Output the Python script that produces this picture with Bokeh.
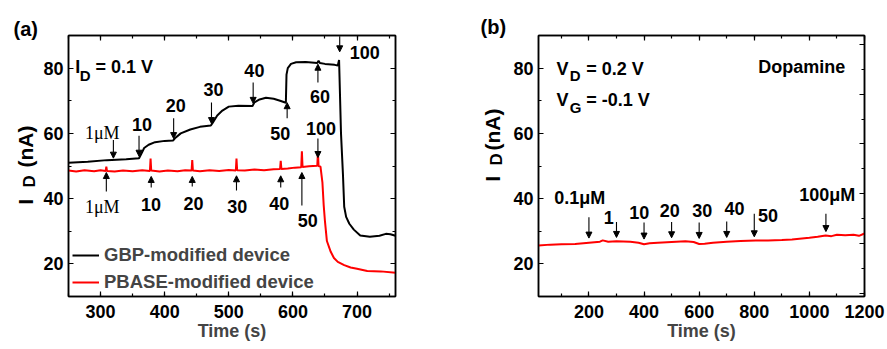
import math
from bokeh.plotting import figure
from bokeh.models import (Range1d, LinearAxis, SingleIntervalTicker, Label, Arrow, NormalHead)
from bokeh.layouts import row
from bokeh.embed import file_html
from bokeh.resources import INLINE

# ---------------- data: panel (a) ----------------
gbp_t = [250, 280, 310, 340, 360, 363, 368, 375, 385, 400, 413, 416, 425, 440, 455, 472,
         475, 482, 490, 500, 515, 537, 540, 548, 558, 570, 580, 589, 590, 592, 597, 605,
         620, 638, 640, 642, 650, 665, 670, 672, 675, 678, 680, 683, 688, 695, 705, 720,
         735, 745, 752, 760]
gbp_i = [51.0, 51.3, 51.8, 52.1, 52.4, 53.5, 55.5, 56.5, 57.3, 57.7, 57.8, 58.5, 60.0, 61.2, 62.0, 62.4,
         63.3, 65.5, 67.0, 68.2, 68.5, 68.4, 69.5, 70.4, 70.9, 70.6, 70.0, 69.4, 78.0, 80.0, 81.3, 81.8,
         81.9, 81.6, 82.3, 81.6, 81.3, 81.0, 80.8, 82.5, 60.0, 47.6, 37.5, 34.4, 32.3, 30.5, 28.7, 28.3,
         28.6, 29.2, 29.1, 28.6]

pbase_t = [250, 262, 275, 290, 300, 308, 309, 310, 322, 335, 350, 365, 377, 378, 379, 392,
           405, 420, 432, 442, 443, 444, 455, 470, 485, 500, 511, 512, 513, 525, 540, 555,
           570, 580, 581, 582, 592, 603, 613, 614, 615, 625, 638, 639, 640, 643, 646, 648,
           650, 653, 659, 664, 670, 680, 690, 700, 716, 737, 760]
pbase_i = [48.6, 48.3, 48.7, 48.4, 48.7, 48.5, 49.8, 48.5, 48.3, 48.6, 48.4, 48.7, 48.5, 52.3, 48.6, 48.3,
           48.6, 48.4, 48.7, 48.6, 51.8, 48.6, 48.4, 48.7, 48.5, 48.8, 48.6, 52.3, 48.7, 48.6, 48.9, 48.7,
           49.0, 49.1, 51.6, 49.1, 49.2, 49.5, 49.6, 54.5, 49.7, 49.9, 50.1, 54.2, 50.0, 49.8, 45.0, 38.0,
           33.0, 27.0, 23.7, 21.8, 20.6, 19.6, 18.9, 18.5, 17.8, 17.7, 17.3]

# ---------------- data: panel (b) ----------------
dopa_t = [17, 60, 100, 150, 200, 240, 250, 270, 300, 350, 380, 400, 420, 450, 500, 550,
          580, 600, 620, 650, 700, 750, 805, 850, 900, 937, 1000, 1030, 1059, 1080, 1100, 1130,
          1160, 1180, 1200]
dopa_i = [25.6, 25.9, 26.0, 26.1, 26.5, 26.8, 27.2, 26.8, 26.9, 26.8, 26.5, 26.0, 26.3, 26.5, 26.7, 26.9,
          26.7, 26.1, 26.2, 26.5, 26.8, 27.0, 27.2, 27.2, 27.3, 27.5, 28.0, 28.3, 28.7, 28.5, 28.9, 28.8,
          28.9, 28.6, 29.3]

# injection markers
a_black_times = [320, 360, 414, 473, 538, 591, 639, 673]
a_black_labels = ["1μM", "10", "20", "30", "40", "50", "60", "100"]
a_red_times = [309, 379, 443, 512, 581, 614, 639]
a_red_labels = ["1μM", "10", "20", "30", "40", "50", "100"]
b_times = [200, 300, 400, 500, 600, 700, 800, 1060]
b_labels = ["0.1μM", "1", "10", "20", "30", "40", "50", "100μM"]

# annotation placement (text x, text y, arrow y start, arrow y end)
a_black_pos = [(302.7, 60.0, 58.0, 52.4), (364.7, 62.7, 59.3, 53.0), (417.4, 68.5, 64.6, 58.4),
               (476.3, 73.4, 69.5, 63.0), (539.9, 79.3, 75.6, 69.2), (580.2, 60.0, 64.6, 69.4),
               (642.2, 71.3, 75.6, 81.2), (688.7, 84.8, 89.8, 85.0)]
a_red_pos = [(302.7, 37.4, 42.2, 48.0), (378.7, 38.2, 43.4, 46.8), (444.9, 38.5, 43.7, 46.8),
             (513.1, 37.6, 42.5, 47.0), (578.6, 38.5, 43.4, 47.0), (623.1, 33.3, 37.9, 48.0),
             (643.8, 61.5, 58.4, 52.6)]
b_pos = [(166.6, 40.1, 34.3, 27.9), (271.6, 34.3, 32.8, 28.1), (382.8, 35.8, 32.7, 27.6),
         (493.7, 36.4, 32.8, 28.0), (611.0, 36.3, 32.7, 27.8), (728.0, 37.0, 33.0, 28.1),
         (850.0, 34.8, 35.4, 28.3), (1065.0, 41.0, 35.4, 29.9)]

FONT = "Liberation Sans"
SERIF = "Liberation Serif"
TICK = "18px"
H = 348


def mirror_axis(ticker, **kw):
    return LinearAxis(ticker=ticker, major_label_text_color=None, major_label_text_font_size="8px",
                      major_tick_in=5, major_tick_out=0, minor_tick_in=3, minor_tick_out=0,
                      axis_line_width=1.5, major_tick_line_width=1.2, minor_tick_line_width=1.2, **kw)


def style_axes(p, xtick, ytick, right_axis):
    for ax in p.xaxis + p.yaxis:
        ax.axis_line_width = 1.5
        ax.major_tick_in = 5
        ax.major_tick_out = 0
        ax.minor_tick_in = 3
        ax.minor_tick_out = 0
        ax.major_tick_line_width = 1.2
        ax.minor_tick_line_width = 1.2
        ax.major_label_text_font = FONT
        ax.major_label_text_font_style = "bold"
        ax.major_label_text_font_size = TICK
        ax.major_label_text_color = "black"
    p.xaxis.major_label_standoff = 8
    p.yaxis.major_label_standoff = 5
    p.xaxis.ticker = xtick
    p.yaxis.ticker = ytick
    p.xaxis.axis_label = "Time (s)"
    p.xaxis.axis_label_text_font = FONT
    p.xaxis.axis_label_text_font_style = "bold"
    p.xaxis.axis_label_text_font_size = "18px"
    p.xaxis.axis_label_standoff = 0
    p.add_layout(mirror_axis(xtick), "above")
    p.add_layout(right_axis, "right")


def add_text(p, x, y, text, size="18px", font=FONT, style="bold", align="center", baseline="middle",
             angle=0.0, color="black"):
    p.add_layout(Label(x=x, y=y, text=text, text_font=font, text_font_size=size, text_font_style=style,
                       text_align=align, text_baseline=baseline, angle=angle, text_color=color))


def add_arrow(p, x, y0, y1):
    p.add_layout(Arrow(end=NormalHead(size=6, fill_color="black", line_color="black", line_width=1),
                       x_start=x, y_start=y0, x_end=x, y_end=y1, line_width=1.1, line_color="black"))


def make_fig(width, xr, lb, rb):
    p = figure(width=width, height=H, x_range=Range1d(*xr), y_range=Range1d(10, 90),
               output_backend="svg", toolbar_location=None,
               min_border_left=lb, min_border_right=rb, min_border_top=35, min_border_bottom=52)
    p.title.visible = False
    p.grid.visible = False
    p.outline_line_color = "black"
    p.outline_line_width = 1.5
    p.background_fill_color = "white"
    p.border_fill_color = "white"
    return p


def make_strip(width):
    s = figure(width=width, height=H, x_range=Range1d(0, width), y_range=Range1d(H, 0),
               output_backend="svg", toolbar_location=None, x_axis_type=None, y_axis_type=None,
               min_border=0, min_border_left=0, min_border_right=0, min_border_top=0, min_border_bottom=0)
    s.frame_align = False
    s.title.visible = False
    s.grid.visible = False
    s.outline_line_color = None
    s.background_fill_color = "white"
    s.border_fill_color = "white"
    return s


# ---------------- strip left of panel (a): tag + y title ----------------
sa = make_strip(40)
add_text(sa, 13, 28, "(a)", size="20px", align="left", baseline="alphabetic")
add_text(sa, 25, 204, "I", size="20px", align="left", baseline="alphabetic", angle=math.pi / 2)
add_text(sa, 29, 187, "D", size="17px", align="left", baseline="alphabetic", angle=math.pi / 2)
add_text(sa, 25, 167, "(nA)", size="21px", align="left", baseline="alphabetic", angle=math.pi / 2)

# ---------------- panel (a) ----------------
pa = make_fig(405, (250, 760), 26, 50)
style_axes(pa, SingleIntervalTicker(interval=100, num_minor_ticks=2),
           SingleIntervalTicker(interval=20, num_minor_ticks=2),
           mirror_axis(SingleIntervalTicker(interval=20, num_minor_ticks=2)))

pa.line(gbp_t, gbp_i, line_color="black", line_width=2, legend_label="GBP-modified device")
pa.line(pbase_t, pbase_i, line_color="#ff0000", line_width=2, legend_label="PBASE-modified device")

lg = pa.legend[0]
lg.location = (4, 3)
lg.padding = 0
lg.margin = 0
lg.spacing = 5
lg.glyph_width = 27
lg.glyph_height = 20
lg.label_height = 20
lg.label_standoff = 5
lg.label_text_font = FONT
lg.label_text_font_style = "bold"
lg.label_text_font_size = "18.5px"
lg.border_line_alpha = 0
lg.background_fill_alpha = 0

for t, lab, (tx, ty, y0, y1) in zip(a_black_times, a_black_labels, a_black_pos):
    add_arrow(pa, t, y0, y1)
    if "μ" in lab:
        add_text(pa, tx, ty, lab, font=SERIF, style="normal")
    elif lab == "100":
        add_text(pa, tx, ty, lab, align="left")
    else:
        add_text(pa, tx, ty, lab)
for t, lab, (tx, ty, y0, y1) in zip(a_red_times, a_red_labels, a_red_pos):
    add_arrow(pa, t, y0, y1)
    if "μ" in lab:
        add_text(pa, tx, ty, lab, font=SERIF, style="normal")
    else:
        add_text(pa, tx, ty, lab)

# "I_D = 0.1 V"
add_text(pa, 260.5, 80.3, "I", align="left", baseline="alphabetic")
add_text(pa, 267.5, 77.7, "D", size="15px", align="left", baseline="alphabetic")
add_text(pa, 292.0, 80.3, "= 0.1 V", align="left", baseline="alphabetic")

# ---------------- strip left of panel (b) ----------------
sb = make_strip(65)
add_text(sb, 35, 26, "(b)", size="20px", align="left", baseline="alphabetic")
add_text(sb, 47, 181, "I", size="20px", align="left", baseline="alphabetic", angle=math.pi / 2)
add_text(sb, 51, 165, "D", size="17px", align="left", baseline="alphabetic", angle=math.pi / 2)
add_text(sb, 47, 150, "(nA)", size="21px", align="left", baseline="alphabetic", angle=math.pi / 2)

# ---------------- panel (b) ----------------
pb = make_fig(376, (17, 1200), 27, 22)
pb.extra_y_ranges = {"r": Range1d(-0.7, 51.8)}
style_axes(pb, SingleIntervalTicker(interval=200, num_minor_ticks=2),
           SingleIntervalTicker(interval=20, num_minor_ticks=2),
           mirror_axis(SingleIntervalTicker(interval=10, num_minor_ticks=2), y_range_name="r"))

pb.line(dopa_t, dopa_i, line_color="#ff0000", line_width=2)

for t, lab, (tx, ty, y0, y1) in zip(b_times, b_labels, b_pos):
    add_arrow(pb, t, y0, y1)
    add_text(pb, tx, ty, lab)

add_text(pb, 82.0, 79.8, "V", align="left", baseline="alphabetic")
add_text(pb, 130.0, 77.7, "D", size="15px", align="left", baseline="alphabetic")
add_text(pb, 190.0, 79.8, "= 0.2 V", align="left", baseline="alphabetic")
add_text(pb, 82.0, 70.1, "V", align="left", baseline="alphabetic")
add_text(pb, 130.0, 68.0, "G", size="15px", align="left", baseline="alphabetic")
add_text(pb, 190.0, 70.1, "= -0.1 V", align="left", baseline="alphabetic")
add_text(pb, 1130.0, 80.3, "Dopamine", align="right", baseline="alphabetic")

layout = row(sa, pa, sb, pb)
open("out.html", "w").write(file_html(layout, INLINE))
